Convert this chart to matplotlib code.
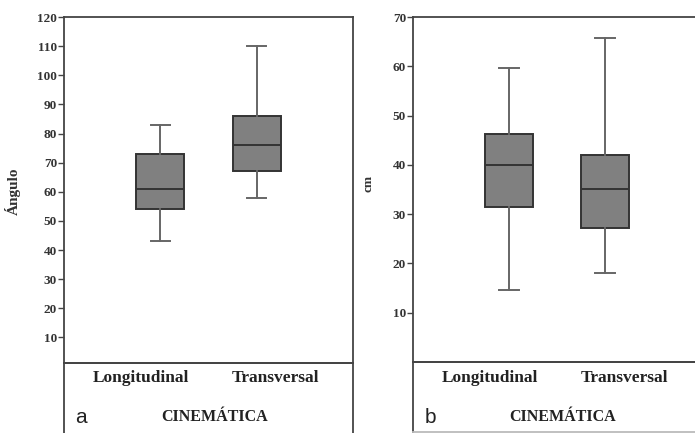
import matplotlib
matplotlib.use("Agg")
import matplotlib.pyplot as plt

# Datos
categorias = ['Longitudinal', 'Transversal']

# Panel a: ángulo
ang_min = [43, 58]
ang_q1 = [54, 67]
ang_med = [61, 76]
ang_q3 = [73, 86]
ang_max = [83, 110]

# Panel b: cm
cm_min = [14.7, 18.0]
cm_q1 = [31.5, 27.2]
cm_med = [40.0, 35.2]
cm_q3 = [46.2, 42.0]
cm_max = [59.7, 65.8]

ticks_a = [10, 20, 30, 40, 50, 60, 70, 80, 90, 100, 110, 120]
ticks_b = [10, 20, 30, 40, 50, 60, 70]

W, H = 695, 433
serif = 'Liberation Serif'
gris_linea = '#444444'


def caja(px_izq, px_sup, px_der, px_inf):
    # convierte coordenadas en pixeles a fracción de la figura
    return [px_izq / W, 1 - px_inf / H, (px_der - px_izq) / W, (px_inf - px_sup) / H]


def estadisticas(mins, q1s, meds, q3s, maxs):
    stats = []
    for i in range(len(mins)):
        stats.append({'whislo': mins[i], 'q1': q1s[i], 'med': meds[i],
                      'q3': q3s[i], 'whishi': maxs[i], 'fliers': []})
    return stats


def panel(ax, ax_bajo, stats, ticks, ylim, letra, x_letra, lado_derecho):
    ax.bxp(stats, positions=[1, 2], widths=0.5, capwidths=0.2, patch_artist=True,
           showfliers=False,
           boxprops=dict(facecolor='#808080', edgecolor='#333333', linewidth=1.4),
           medianprops=dict(color='#333333', linewidth=1.4),
           whiskerprops=dict(color='#666666', linewidth=1.4),
           capprops=dict(color='#666666', linewidth=1.4))
    ax.set_xlim(0, 3)
    ax.set_ylim(*ylim)
    ax.set_yticks(ticks)
    ax.set_yticklabels([str(t) for t in ticks], fontfamily=serif,
                       fontweight='bold', fontsize=9.5, color='#333333')
    ax.tick_params(axis='y', length=4, width=1, color=gris_linea, pad=1)
    ax.set_xticks([])
    for s in ax.spines.values():
        s.set_color(gris_linea)
        s.set_linewidth(1.3)
    ax.spines['right'].set_visible(not lado_derecho)

    ax_bajo.set_xticks([])
    ax_bajo.set_yticks([])
    ax_bajo.patch.set_alpha(0)
    for s in ax_bajo.spines.values():
        s.set_color(gris_linea)
        s.set_linewidth(1.3)
    ax_bajo.spines['right'].set_visible(not lado_derecho)
    if lado_derecho:
        ax_bajo.spines['bottom'].set_color('#bbbbbb')

    # etiquetas de categoría en la caja inferior
    trans = ax.get_xaxis_transform()
    for pos, cat, desp in zip([1, 2], categorias, [-0.2, 0.2]):
        ax.text(pos + desp, -0.045, cat, transform=trans, ha='center', va='center',
                fontfamily=serif, fontweight='bold', fontsize=12.5, color='#222222',
                clip_on=False)
    ax.text(1.56, -0.158, 'CINEMÁTICA', transform=trans, ha='center', va='center',
            fontfamily=serif, fontweight='bold', fontsize=11.5, color='#222222',
            clip_on=False)
    fig.text(x_letra / W, 1 - 423 / H, letra, ha='center', va='baseline',
             fontfamily='Liberation Sans', fontsize=15, color='#222222')


fig = plt.figure(figsize=(W / 100, H / 100), dpi=100)

ax1 = fig.add_axes(caja(64, 17, 353, 362.5))
ax1_bajo = fig.add_axes(caja(64, 362.5, 353, 445))
panel(ax1, ax1_bajo, estadisticas(ang_min, ang_q1, ang_med, ang_q3, ang_max),
      ticks_a, (1.4, 120), 'a', 81, False)
fig.text(13 / W, 1 - 191 / H, 'Ángulo', rotation=90, ha='center', va='center',
         fontfamily=serif, fontweight='bold', fontsize=11, color='#333333')

ax2 = fig.add_axes(caja(413, 17, 701, 362))
ax2_bajo = fig.add_axes(caja(413, 362, 701, 432))
panel(ax2, ax2_bajo, estadisticas(cm_min, cm_q1, cm_med, cm_q3, cm_max),
      ticks_b, (0, 70), 'b', 430, True)
fig.text(368 / W, 1 - 183 / H, 'cm', rotation=90, ha='center', va='center',
         fontfamily=serif, fontweight='bold', fontsize=9.5, color='#333333')

fig.savefig('out.png', dpi=100)
